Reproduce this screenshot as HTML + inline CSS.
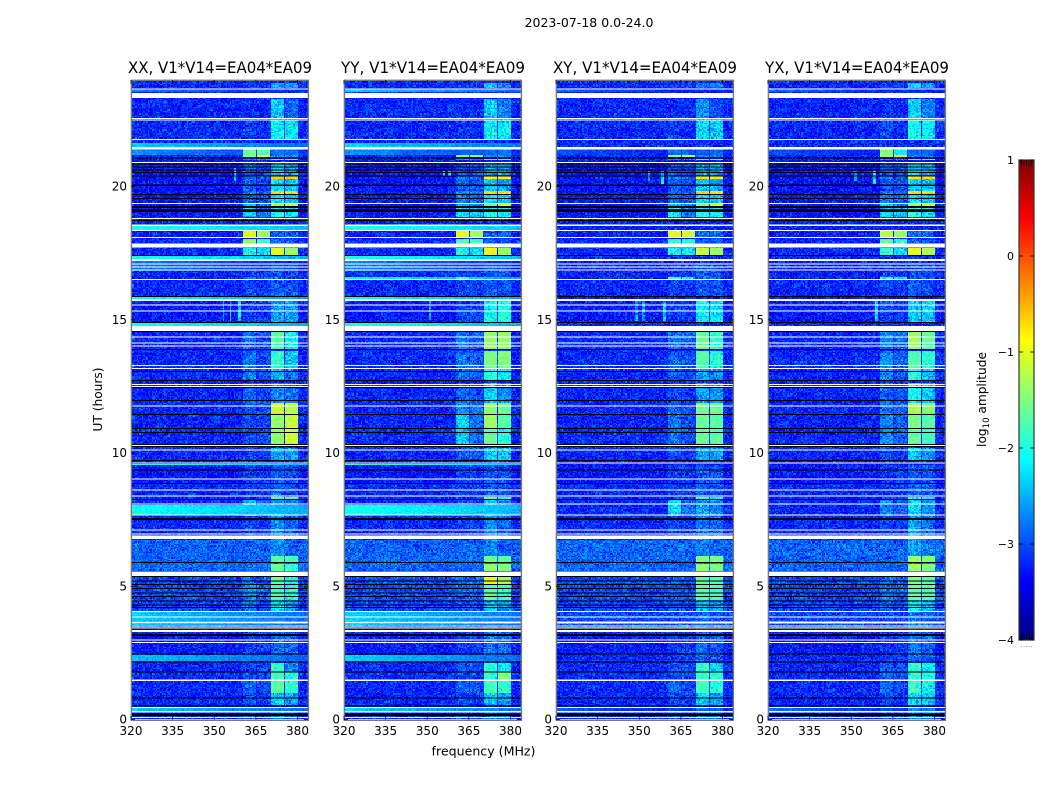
<!DOCTYPE html>
<html lang="en">
<head>
<meta charset="utf-8">
<title>2023-07-18 0.0-24.0</title>
<style>
html,body{margin:0;padding:0;background:#fff;width:1050px;height:800px;overflow:hidden}
#figure{position:relative;width:1050px;height:800px;font-family:"DejaVu Sans","Liberation Sans",sans-serif}
#figure canvas{position:absolute;top:80px;image-rendering:pixelated}
#overlay{position:absolute;left:0;top:0}
#overlay text{font-family:"DejaVu Sans","Liberation Sans",sans-serif;fill:#000}
</style>
</head>
<body>
<div id="figure">
<svg id="overlay" width="1050" height="800" viewBox="0 0 1050 800">
<defs><linearGradient id="jetGradient" x1="0" y1="1" x2="0" y2="0"></linearGradient></defs>
<text x="589" y="27" font-size="12.5" text-anchor="middle">2023-07-18 0.0-24.0</text>
<text x="483.5" y="755.5" font-size="12.6" text-anchor="middle">frequency (MHz)</text>
<text transform="translate(102,399.5) rotate(-90)" font-size="12.2" text-anchor="middle">UT (hours)</text>
<text transform="translate(986,399.5) rotate(-90)" font-size="12.2" text-anchor="middle">log<tspan font-size="8.5" dy="3">10</tspan><tspan dy="-3"> amplitude</tspan></text>
</svg>
</div>
<script>
// ---- Chart data (hours UT, MHz, log10 amplitude) ----
const pols = ['XX', 'YY', 'XY', 'YX'];
const freqTicks = [320, 335, 350, 365, 380];
const hourTicks = [0, 5, 10, 15, 20];
const colorTicks = [1, 0, -1, -2, -3, -4];
const baseLevel = -3.2;
const faintBandDrop = [0.22, 0.22, 0.1, 0.1];

// Fully flagged time ranges, drawn white: [start hour, end hour]
const flaggedHours = [[23.645,23.68],[23.33,23.52],[22.54,22.57],[22.48,22.51],[21.74,21.78],[21.40,21.48],[20.88,20.92],[19.34,19.38],[18.78,18.82],[18.53,18.57],[18.33,18.37],[18.07,18.10],[17.72,17.86],[17.20,17.28],[17.07,17.11],[16.97,17.00],[16.87,16.89],[16.49,16.53],[15.70,15.78],[15.53,15.57],[15.31,15.35],[14.58,14.76],[14.33,14.37],[14.11,14.14],[13.99,14.03],[13.27,13.31],[13.16,13.20],[12.55,12.59],[12.48,12.51],[11.75,11.79],[10.26,10.30],[10.10,10.14],[9.61,9.65],[9.01,9.05],[8.60,8.64],[8.37,8.41],[8.07,8.10],[7.66,7.70],[7.09,7.13],[6.94,6.98],[6.77,6.90],[5.38,5.55],[4.03,4.07],[3.83,3.86],[3.61,3.68],[3.51,3.53],[3.43,3.46],[3.28,3.36],[2.97,3.00],[2.87,2.91],[1.44,1.51],[0.43,0.46],[0.26,0.31],[0.07,0.09],[0,0.02]];

// Zero-amplitude time ranges, drawn black: [start hour, end hour]
const zeroHours = [[21.05,21.09],[20.84,20.87],[20.72,20.75],[20.62,20.64],[20.52,20.54],[20.39,20.42],[20.03,20.07],[19.69,19.72],[19.53,19.57],[19.20,19.27],[19.05,19.15],[18.72,18.74],[17.39,17.43],[15.85,15.89],[14.88,14.91],[14.54,14.58],[13.86,13.90],[13.04,13.08],[12.70,12.74],[12.44,12.48],[11.95,11.99],[11.42,11.46],[10.91,10.94],[10.76,10.79],[10.30,10.34],[10.22,10.26],[9.70,9.74],[9.34,9.39],[8.84,8.87],[8.25,8.28],[7.49,7.57],[5.87,5.91],[5.55,5.58],[5.35,5.38],[5.18,5.21],[5.06,5.08],[4.91,4.93],[4.73,4.76],[4.61,4.63],[4.44,4.46],[4.30,4.32],[4.19,4.22],[3.37,3.41],[3.13,3.21],[2.46,2.48],[2.16,2.18],[1.78,1.81],[0.81,0.83],[0.49,0.52],[0.14,0.22]];

// Broadband background shared by all products: [start hour, end hour, level]
const commonBands = [[18.85,21.05,-3.3],[18.0,18.72,-3.25],[14.91,15.89,-3.28],[10.9,12.7,-3.22],[8.85,9.7,-3.3],[5.58,6.77,-2.9],[4.1,5.38,-3.05],[3.43,4.07,-3.05],[2.48,3.13,-3.28]];

// Broadband interference per product: [start hour, end hour, level at 320 MHz]
const wideXX = [[23.53,23.64,-2.75],[21.48,21.66,-2.35],[21.18,21.40,-2.65],[18.37,18.53,-1.95],[17.28,17.39,-2.0],[16.87,17.2,-2.75],[15.78,15.85,-2.1],[14.76,14.88,-2.05],[9.53,9.61,-1.9],[7.70,8.07,-2.05],[3.83,4.03,-2.35],[3.68,3.83,-2.35],[3.53,3.61,-2.35],[2.18,2.46,-2.4],[0.31,0.43,-2.35]];
const wideYY = [[23.53,23.64,-2.35],[21.48,21.66,-2.3],[21.18,21.40,-2.65],[18.37,18.53,-1.9],[17.28,17.39,-1.95],[16.87,17.2,-2.7],[16.53,16.6,-2.1],[15.78,15.85,-2.05],[14.76,14.88,-2.0],[9.53,9.61,-1.85],[7.70,8.07,-2.0],[3.83,4.03,-2.3],[3.68,3.83,-2.3],[3.53,3.61,-2.3],[2.18,2.46,-2.35],[0.31,0.43,-2.3]];
const wideXY = [[23.53,23.64,-2.85],[21.18,21.40,-2.95],[0.31,0.43,-2.9]];
const wideYX = [[23.53,23.64,-2.85],[21.18,21.40,-2.95],[0.31,0.43,-2.85]];

// The four bright sub-bands in MHz
const subbands = [[360.5,365.2],[365.7,369.8],[370.5,375.2],[375.7,379.8]];

// Time segments (hours) that the per-product sub-band levels below refer to
const segmentHours = [[23.68,23.92],[22.57,23.32],[21.76,22.5],[21.18,21.40],[21.11,21.18],[21.0,21.07],[20.43,20.88],[20.28,20.39],[19.87,20.28],[19.72,19.87],[19.34,19.72],[19.27,19.34],[18.85,19.27],[18.10,18.33],[17.88,18.07],[17.80,17.88],[17.43,17.69],[15.89,17.17],[16.53,16.6],[14.91,15.70],[14.16,14.54],[13.90,14.16],[13.2,13.87],[12.74,13.2],[11.92,12.66],[11.5,11.92],[10.94,11.5],[10.34,10.94],[9.74,10.22],[8.37,9.55],[8.30,8.37],[7.67,8.30],[6.13,7.67],[5.91,6.13],[5.58,5.87],[5.05,5.35],[4.48,5.05],[4.11,4.48],[2.16,4.07],[1.78,2.16],[1.51,1.78],[1.0,1.44],[0.55,1.0],[0,0.5]];

// Sub-band levels, one row per time segment: [band 1, band 2, band 3, band 4]
const levelsXX = [[-2.9,-2.9,-2.5,-2.5],[-2.95,-3,-2.4,-2.8],[-2.9,-2.95,-2.2,-2.25],[-1.6,-1.65,-2.7,-2.7],[-1.5,-1.0,-2.6,-2.6],[-2.5,-2.5,-1.7,-1.7],[-2.7,-2.8,-2.4,-2.5],[-2.6,-2.7,-0.65,-0.65],[-2.7,-2.8,-2.3,-2.4],[-2.6,-2.7,-0.65,-0.7],[-2.7,-2.8,-2.3,-2.4],[-2.4,-2.5,-1.3,-1.1],[-2.4,-2.6,-2.1,-2.2],[-1.1,-1.3,-2.8,-2.8],[-1.5,-1.8,-2.8,-2.9],[-1,-0.9,-2.8,-2.9],[-2.1,-2.3,-1.05,-1.35],[-2.85,-2.9,-2.85,-2.9],[-2.5,-2.6,-2.9,-2.9],[-2.9,-2.9,-2.5,-2.5],[-2.6,-2.8,-1.7,-2.1],[-2.7,-2.8,-1.8,-2.2],[-2.6,-2.8,-1.9,-2.4],[-2.6,-2.8,-2.5,-2.7],[-2.7,-2.8,-2.6,-2.7],[-2.8,-2.8,-1.15,-1.25],[-2.8,-2.8,-1.4,-1.15],[-2.8,-2.8,-1.45,-1.1],[-2.9,-2.9,-2.5,-2.5],[-2.9,-2.9,-2.85,-2.9],[-2.9,-2.9,-1.7,-1.7],[-2.4,-2.6,-2.5,-2.6],[-2.85,-2.9,-2.6,-2.8],[-2.7,-2.7,-1.7,-1.8],[-2.7,-2.7,-1.6,-1.9],[-2.6,-2.7,-1.6,-2.0],[-2.5,-2.7,-1.8,-2.0],[-2.6,-2.8,-2.3,-2.5],[-2.9,-2.9,-2.8,-2.8],[-2.8,-2.8,-1.9,-2.6],[-2.8,-2.8,-1.8,-2.0],[-2.7,-2.8,-1.7,-1.9],[-2.8,-2.9,-2.4,-2.5],[-2.8,-2.9,-2.7,-2.8]];
const levelsYY = [[-2.9,-2.9,-2.4,-2.6],[-3,-3,-2.4,-2.7],[-2.9,-3,-2.2,-2.2],[-2.7,-2.7,-2.7,-2.7],[-1.4,-1.4,-2.6,-2.6],[-2.5,-2.5,-1.7,-1.7],[-2.8,-2.8,-2.5,-2.5],[-2.6,-2.7,-0.9,-0.9],[-2.7,-2.7,-2.4,-2.5],[-2.5,-2.6,-0.7,-0.75],[-2.6,-2.7,-2.2,-2.4],[-2.4,-2.5,-1.5,-1],[-2.2,-2.4,-2,-2.1],[-1,-1.3,-2.8,-2.8],[-1.7,-1.8,-2.8,-2.9],[-1.7,-1.8,-2.8,-2.9],[-2.1,-2.3,-0.95,-1.35],[-2.85,-2.9,-2.85,-2.9],[-1.7,-2.3,-2.9,-2.9],[-2.85,-2.85,-2.1,-2.0],[-2.6,-2.7,-1.4,-1.4],[-2.6,-2.7,-1.4,-1.4],[-2.6,-2.7,-1.5,-1.5],[-2.6,-2.7,-2,-2.2],[-2.7,-2.8,-2.3,-2.6],[-2.5,-2.6,-1.4,-1.6],[-2.4,-2.6,-1.35,-1.7],[-2.4,-2.6,-1.6,-2],[-2.7,-2.8,-2.4,-2.4],[-2.9,-2.9,-2.85,-2.9],[-2.9,-2.9,-1.6,-1.9],[-2.8,-2.9,-2.4,-2.6],[-2.9,-2.9,-2.6,-2.8],[-2.8,-2.8,-1.6,-1.7],[-2.8,-2.8,-1.4,-1.5],[-2.7,-2.7,-1.0,-1.3],[-2.7,-2.7,-1.7,-1.9],[-2.8,-2.8,-2.4,-2.5],[-2.9,-2.9,-2.7,-2.8],[-2.8,-2.8,-1.9,-2.2],[-2.8,-2.8,-1.9,-1.5],[-2.7,-2.8,-1.8,-1.9],[-2.8,-2.9,-2.4,-2.5],[-2.8,-2.9,-2.7,-2.8]];
const levelsXY = [[-2.9,-2.9,-2.7,-2.7],[-3,-3,-2.6,-2.9],[-2.9,-3,-2.3,-2.4],[-2.6,-2.7,-2.8,-2.8],[-1.3,-1.2,-2.7,-2.7],[-2.5,-2.5,-1.7,-1.7],[-2.7,-2.8,-2.5,-2.5],[-2.6,-2.7,-0.8,-0.8],[-2.7,-2.8,-2.4,-2.5],[-2.6,-2.7,-0.7,-0.75],[-2.7,-2.8,-2.3,-2.4],[-2.4,-2.5,-1.4,-1.1],[-2.2,-2.5,-2.0,-2.1],[-1.0,-1.1,-2.8,-2.8],[-1.9,-1.9,-2.8,-2.9],[-1.7,-1.8,-2.8,-2.9],[-2.1,-2.2,-1.15,-1.35],[-2.9,-2.9,-2.85,-2.9],[-1.7,-2.2,-2.9,-2.9],[-2.9,-2.9,-2.2,-2.3],[-2.6,-2.7,-1.6,-1.9],[-2.7,-2.8,-1.6,-1.9],[-2.7,-2.8,-1.7,-2.0],[-2.7,-2.8,-2.5,-2.6],[-2.8,-2.9,-2.5,-2.6],[-2.7,-2.8,-1.6,-1.6],[-2.6,-2.8,-1.6,-1.7],[-2.6,-2.8,-1.6,-1.7],[-2.8,-2.9,-2.5,-2.5],[-2.9,-2.9,-2.85,-2.9],[-2.9,-2.9,-1.9,-1.9],[-2.3,-2.6,-2.5,-2.6],[-2.9,-2.9,-2.7,-2.8],[-2.8,-2.8,-1.45,-1.55],[-2.8,-2.8,-1.45,-1.55],[-2.7,-2.8,-1.6,-1.7],[-2.7,-2.8,-1.7,-1.8],[-2.8,-2.9,-2.4,-2.5],[-2.9,-2.9,-2.8,-2.9],[-2.8,-2.8,-1.9,-2.3],[-2.8,-2.8,-1.9,-2.0],[-2.7,-2.8,-1.8,-2.0],[-2.8,-2.9,-2.4,-2.5],[-2.8,-2.9,-2.7,-2.8]];
const levelsYX = [[-2.8,-2.9,-2.3,-2.6],[-2.9,-3,-2.3,-2.6],[-2.8,-2.9,-2.1,-2.15],[-1.5,-2.2,-2.8,-2.8],[-1.2,-0.85,-2.7,-2.7],[-2.5,-2.5,-1.7,-1.7],[-2.7,-2.8,-2.4,-2.5],[-2.6,-2.7,-0.75,-0.75],[-2.7,-2.8,-2.3,-2.4],[-2.5,-2.6,-0.7,-0.7],[-2.6,-2.7,-2.3,-2.4],[-2.4,-2.5,-1.4,-1.1],[-2.2,-2.4,-1.9,-2.1],[-1.15,-1.4,-2.8,-2.8],[-1.6,-1.9,-2.8,-2.9],[-1.6,-1.8,-2.8,-2.9],[-1.9,-2.3,-0.95,-1.3],[-2.85,-2.9,-2.85,-2.9],[-1.9,-2.3,-2.9,-2.9],[-2.8,-2.9,-2.4,-2.4],[-2.5,-2.6,-1.3,-1.6],[-2.6,-2.7,-1.4,-1.7],[-2.5,-2.7,-1.7,-1.9],[-2.5,-2.7,-2.0,-2.4],[-2.7,-2.8,-2.1,-2.4],[-2.6,-2.7,-1.3,-1.5],[-2.5,-2.7,-1.5,-1.7],[-2.5,-2.7,-1.6,-1.8],[-2.8,-2.9,-2.4,-2.5],[-2.9,-2.9,-2.85,-2.9],[-2.9,-2.9,-1.9,-2.0],[-2.5,-2.7,-2.3,-2.5],[-2.9,-2.9,-2.5,-2.7],[-2.7,-2.8,-1.35,-1.5],[-2.7,-2.8,-1.35,-1.5],[-2.6,-2.7,-1.45,-1.65],[-2.6,-2.7,-1.6,-1.7],[-2.7,-2.8,-2.2,-2.4],[-2.9,-2.9,-2.7,-2.8],[-2.7,-2.8,-1.9,-2.2],[-2.7,-2.8,-1.9,-2.0],[-2.7,-2.8,-1.9,-2.1],[-2.8,-2.9,-2.3,-2.4],[-2.8,-2.9,-2.6,-2.7]];

// Narrow vertical interference: [MHz, start hour, end hour, level]
const streaksXX = [[353.2,14.95,15.7,-2.5],[355.8,14.95,15.7,-2.4],[358.6,14.95,15.7,-2.3],[359.3,14.95,15.7,-2.3],[357.5,20.2,20.7,-2.2]];
const streaksYY = [[351,15.0,15.7,-2.6],[356,20.4,20.6,-2.1],[358,20.4,20.6,-2.1]];
const streaksXY = [[349,14.95,15.7,-2.6],[351.5,14.95,15.7,-2.6],[359,14.95,15.7,-2.3],[358.5,20.1,20.6,-2.2],[353.5,20.2,20.6,-2.4]];
const streaksYX = [[359,14.95,15.7,-2.3],[358.5,20.1,20.6,-2.2],[351.5,20.2,20.6,-2.4]];

// Not read from the picture: the receiver noise is too fine to transcribe, so this
// short list of offsets is cycled as a grain texture on top of the levels above.
const grainOffsets = [0.12,-0.31,0.44,-0.08,0.27,-0.52,0.03,0.36,-0.19,-0.41,0.21,0.52,-0.13,-0.27,0.09,0.33,-0.46,0.16,-0.04,0.40,-0.23,-0.36,0.06,0.29,-0.57,0.18,0.47,-0.11,-0.02,-0.33,0.24,0.38,-0.17,-0.44,0.11,-0.25,0.31,0.01,-0.49,0.20,0.55,-0.06,-0.29,0.14,0.35,-0.38,-0.15,0.26,0.07,-0.21,0.42,-0.54,0.17,-0.10,0.30,-0.34,0.05,0.23,-0.42,0.49,-0.01];

const widesByPol = { XX: wideXX, YY: wideYY, XY: wideXY, YX: wideYX };
const levelsByPol = { XX: levelsXX, YY: levelsYY, XY: levelsXY, YX: levelsYX };
const streaksByPol = { XX: streaksXX, YY: streaksYY, XY: streaksXY, YX: streaksYX };

// ---- Layout and axis functions ----
const panelLeft = [131, 344, 556, 768];
const PLOT_TOP = 80, PLOT_BOTTOM = 719.5, PLOT_W = 177;
const PX_PER_HOUR = (PLOT_BOTTOM - PLOT_TOP) / 24, PX_PER_MHZ = 2.775;
const CHANNEL_MHZ = 0.5, ROW_HOURS = 0.05;
const xScale = (left, mhz) => left + (mhz - 320) * PX_PER_MHZ;
const yScale = hour => PLOT_BOTTOM - hour * PX_PER_HOUR;
const CB_LEFT = 1019, CB_WIDTH = 15, CB_TOP = 160, CB_BOTTOM = 640;
const cbScale = v => CB_BOTTOM - (v + 4) / 5 * (CB_BOTTOM - CB_TOP);

function jet(frac) {
  const f = Math.min(1, Math.max(0, frac));
  const ramp = c => Math.round(255 * Math.min(1, Math.max(0, 1.5 - Math.abs(4 * f - c))));
  return [ramp(3), ramp(2), ramp(1)];
}

function make(tag, attrs, parent) {
  const el = document.createElementNS('http://www.w3.org/2000/svg', tag);
  for (const k in attrs) el.setAttribute(k, attrs[k]);
  parent.appendChild(el);
  return el;
}

function inRange(list, hour) {
  return list.filter(b => hour >= b[0] && hour < b[1]);
}

function cellLevel(pol, mhz, hour) {
  let level = baseLevel;
  for (const b of inRange(commonBands, hour)) level = b[2];
  for (const b of inRange(widesByPol[pol], hour)) {
    level = Math.max(level, b[2] - 0.5 * (mhz - 320) / 64);
  }
  const band = subbands.findIndex(s => mhz >= s[0] && mhz < s[1]);
  if (band >= 0) {
    segmentHours.forEach((s, i) => {
      if (hour >= s[0] && hour < s[1]) {
        const v = levelsByPol[pol][i][band];
        level = Math.max(level, v < -2.45 ? v - faintBandDrop[band] : v);
      }
    });
  }
  for (const s of streaksByPol[pol]) {
    if (Math.abs(mhz - s[0]) <= CHANNEL_MHZ / 2 && hour >= s[1] && hour < s[2]) level = Math.max(level, s[3]);
  }
  return level;
}

function drawHeatmap(pol, index) {
  const cols = Math.round(64 / CHANNEL_MHZ), rows = Math.round(24 / ROW_HOURS);
  const off = document.createElement('canvas');
  off.width = cols; off.height = rows;
  const octx = off.getContext('2d');
  const img = octx.createImageData(cols, rows);
  for (let r = 0; r < rows; r++) {
    const hour = 24 - (r + 0.5) * ROW_HOURS;
    const inWide = inRange(widesByPol[pol], hour).length > 0;
    for (let c = 0; c < cols; c++) {
      const mhz = 320 + (c + 0.5) * CHANNEL_MHZ;
      const level = cellLevel(pol, mhz, hour);
      const a = (c * c * 3 + c * 11 + r * r * 7 + r * 5 + c * r * 13 + index * 17) % 61;
      const b = (c * c * 5 + c * 7 + r * r * 2 + r * 3 + c * r * 11 + index * 29) % 59;
      const scale = level > -1.85 ? 0.24 : (inWide ? 0.22 : 0.5);
      const value = level + scale * (grainOffsets[a] + grainOffsets[b]);
      const rgb = jet((value + 4) / 5);
      const p = (r * cols + c) * 4;
      img.data[p] = rgb[0]; img.data[p + 1] = rgb[1]; img.data[p + 2] = rgb[2]; img.data[p + 3] = 255;
    }
  }
  octx.putImageData(img, 0, 0);
  const canvas = document.createElement('canvas');
  
  
  canvas.width = PLOT_W; canvas.height = 640;
  canvas.style.left = panelLeft[index] + 'px';
  const ctx = canvas.getContext('2d');
  ctx.imageSmoothingEnabled = false;
  ctx.drawImage(off, 0, 0, 64 * PX_PER_MHZ, 640);
  document.getElementById('figure').insertBefore(canvas, document.getElementById('overlay'));
}

function drawPanel(pol, index, svg) {
  const left = panelLeft[index];
  const group = make('g', {}, svg);
  
  

  for (const h of zeroHours) {
    const rect = make('rect', { x: left, y: yScale(h[1]), width: PLOT_W, height: Math.max(1, (h[1] - h[0]) * PX_PER_HOUR), fill: '#000', 'shape-rendering': 'crispEdges' }, group);
    
    
  }
  for (const h of flaggedHours) {
    const rect = make('rect', { x: left, y: yScale(h[1]), width: PLOT_W, height: Math.max(1, (h[1] - h[0]) * PX_PER_HOUR), fill: '#fff', 'shape-rendering': 'crispEdges' }, group);
    
    
  }

  const frame = make('rect', { x: left + 0.4, y: PLOT_TOP + 0.3, width: PLOT_W, height: 640, fill: 'none', stroke: '#777', 'stroke-width': 1.4 }, group);
  
  

  freqTicks.forEach(f => {
    const x = xScale(left, f);
    const bottom = make('line', { x1: x, x2: x, y1: PLOT_BOTTOM, y2: PLOT_BOTTOM - 4, stroke: '#000', 'stroke-width': 0.8 }, group);
    
    
    const top = make('line', { x1: x, x2: x, y1: PLOT_TOP, y2: PLOT_TOP + 4, stroke: '#000', 'stroke-width': 0.8 }, group);
    
    
    const label = make('text', { x: x, y: 735, 'font-size': 12, 'text-anchor': 'middle' }, group);
    
    
    label.textContent = f;
  });

  hourTicks.forEach(h => {
    const y = yScale(h);
    const ltick = make('line', { x1: left, x2: left + 4, y1: y, y2: y, stroke: '#000', 'stroke-width': 0.8 }, group);
    
    
    const rtick = make('line', { x1: left + PLOT_W, x2: left + PLOT_W - 4, y1: y, y2: y, stroke: '#000', 'stroke-width': 0.8 }, group);
    
    
    const label = make('text', { x: left - 4, y: y + 4, 'font-size': 12, 'text-anchor': 'end' }, group);
    
    
    label.textContent = h;
  });

  const title = make('text', { x: left + PLOT_W / 2 + 0.5, y: 73, 'font-size': 16, 'text-anchor': 'middle', textLength: 184, lengthAdjust: 'spacingAndGlyphs' }, group);
  
  
  title.textContent = pol + ', V1*V14=EA04*EA09';
}

function drawColorbar(svg) {
  const grad = document.getElementById('jetGradient');
  for (let i = 0; i <= 64; i++) {
    const rgb = jet(i / 64);
    make('stop', { offset: (i / 64 * 100) + '%', 'stop-color': 'rgb(' + rgb.join(',') + ')' }, grad);
  }
  const group = make('g', {}, svg);
  
  
  const bar = make('rect', { x: CB_LEFT, y: CB_TOP, width: CB_WIDTH, height: CB_BOTTOM - CB_TOP, fill: 'url(#jetGradient)', stroke: '#333', 'stroke-width': 1.2 }, group);
  
  
  colorTicks.forEach(v => {
    const y = cbScale(v);
    const left = make('line', { x1: CB_LEFT, x2: CB_LEFT + 4, y1: y, y2: y, stroke: '#000', 'stroke-width': 0.8 }, group);
    
    
    const right = make('line', { x1: CB_LEFT + CB_WIDTH - 4, x2: CB_LEFT + CB_WIDTH, y1: y, y2: y, stroke: '#000', 'stroke-width': 0.8 }, group);
    
    
    const label = make('text', { x: CB_LEFT - 5, y: y + 4, 'font-size': 11, 'text-anchor': 'end' }, group);
    
    
    label.textContent = String(v).replace('-', '\u2212');
  });
  for (let i = 1; i <= 5; i++) {
    const x = CB_LEFT + i * CB_WIDTH / 6;
    const t1 = make('line', { x1: x, x2: x, y1: CB_TOP, y2: CB_TOP + 6, stroke: '#000', 'stroke-width': 0.7 }, group);
    
    
    const t2 = make('line', { x1: x, x2: x, y1: CB_BOTTOM, y2: CB_BOTTOM - 6, stroke: '#000', 'stroke-width': 0.7 }, group);
    
    
    const dot = make('rect', { x: x - 0.5, y: 646, width: 1, height: 1, fill: '#999' }, group);
    
    
  }
}

const overlay = document.getElementById('overlay');
pols.forEach((pol, i) => {
  drawHeatmap(pol, i);
  drawPanel(pol, i, overlay);
});
drawColorbar(overlay);
</script>
</body>
</html>
